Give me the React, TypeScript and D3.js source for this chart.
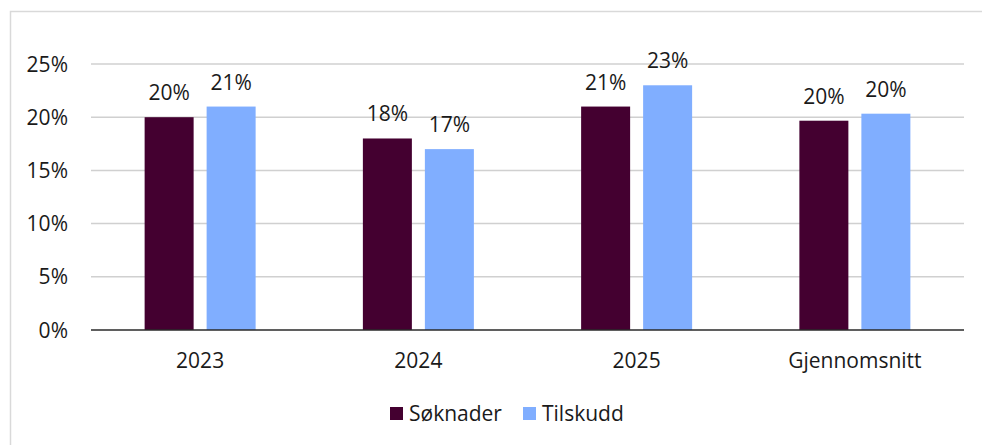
import React from "react";
import * as d3 from "d3";

const categories = ["2023", "2024", "2025", "Gjennomsnitt"];
const seriesNames = ["Søknader", "Tilskudd"];
const soknader = [20, 18, 21, 19.67];
const tilskudd = [21, 17, 23, 20.33];
const yTicks = [0, 5, 10, 15, 20, 25];
const colors = ["#440030", "#80AEFF"];

const W = 982;
const H = 445;
const font = "'Open Sans', sans-serif";
const fs = 21;

export default function App() {
  const left = 91;
  const right = 964;
  const top = 64;
  const bottom = 330;
  const x = d3.scaleBand<string>().domain(categories).range([left, right]).paddingInner(0).paddingOuter(0);
  const y = d3.scaleLinear().domain([0, 25]).range([bottom, top]);
  const barW = 49;
  const gap = 13;
  const series = [soknader, tilskudd];

  return (
    <svg width={W} height={H} style={{ position: "absolute", left: 0, top: 0, background: "#fff" }} fontFamily={font}>
      <rect x={10.5} y={11.5} width={990} height={460} fill="#fff" stroke="#d9d9d9" strokeWidth={1.5} />
      {yTicks.map((t) => (
        <g key={t}>
          {t > 0 && <line x1={left} x2={right} y1={y(t)} y2={y(t)} stroke="#d0d0d0" strokeWidth={1.5} />}
          <text x={68} y={y(t)} dy="0.36em" textAnchor="end" fontSize={fs} fill="#1a1a1a">{t}%</text>
        </g>
      ))}
      {categories.map((c, i) => {
        const cx = (x(c) as number) + x.bandwidth() / 2;
        return (
          <g key={c}>
            {series.map((s, j) => {
              const bx = j === 0 ? cx - gap / 2 - barW : cx + gap / 2;
              return (
                <g key={j}>
                  <rect x={bx} y={y(s[i])} width={barW} height={bottom - y(s[i])} fill={colors[j]} />
                  <text x={bx + barW / 2} y={y(s[i]) - 17} textAnchor="middle" fontSize={fs} fill="#1a1a1a">
                    {Math.round(s[i])}%
                  </text>
                </g>
              );
            })}
            <text x={cx} y={368} textAnchor="middle" fontSize={fs} fill="#1a1a1a">{c}</text>
          </g>
        );
      })}
      <line x1={left} x2={right} y1={bottom} y2={bottom} stroke="#2a2a2a" strokeWidth={1.5} />
      {seriesNames.map((n, j) => {
        const lx = j === 0 ? 390 : 523;
        return (
          <g key={n}>
            <rect x={lx} y={407} width={13} height={13} fill={colors[j]} />
            <text x={lx + 19} y={421} fontSize={fs} fill="#1a1a1a">{n}</text>
          </g>
        );
      })}
    </svg>
  );
}
